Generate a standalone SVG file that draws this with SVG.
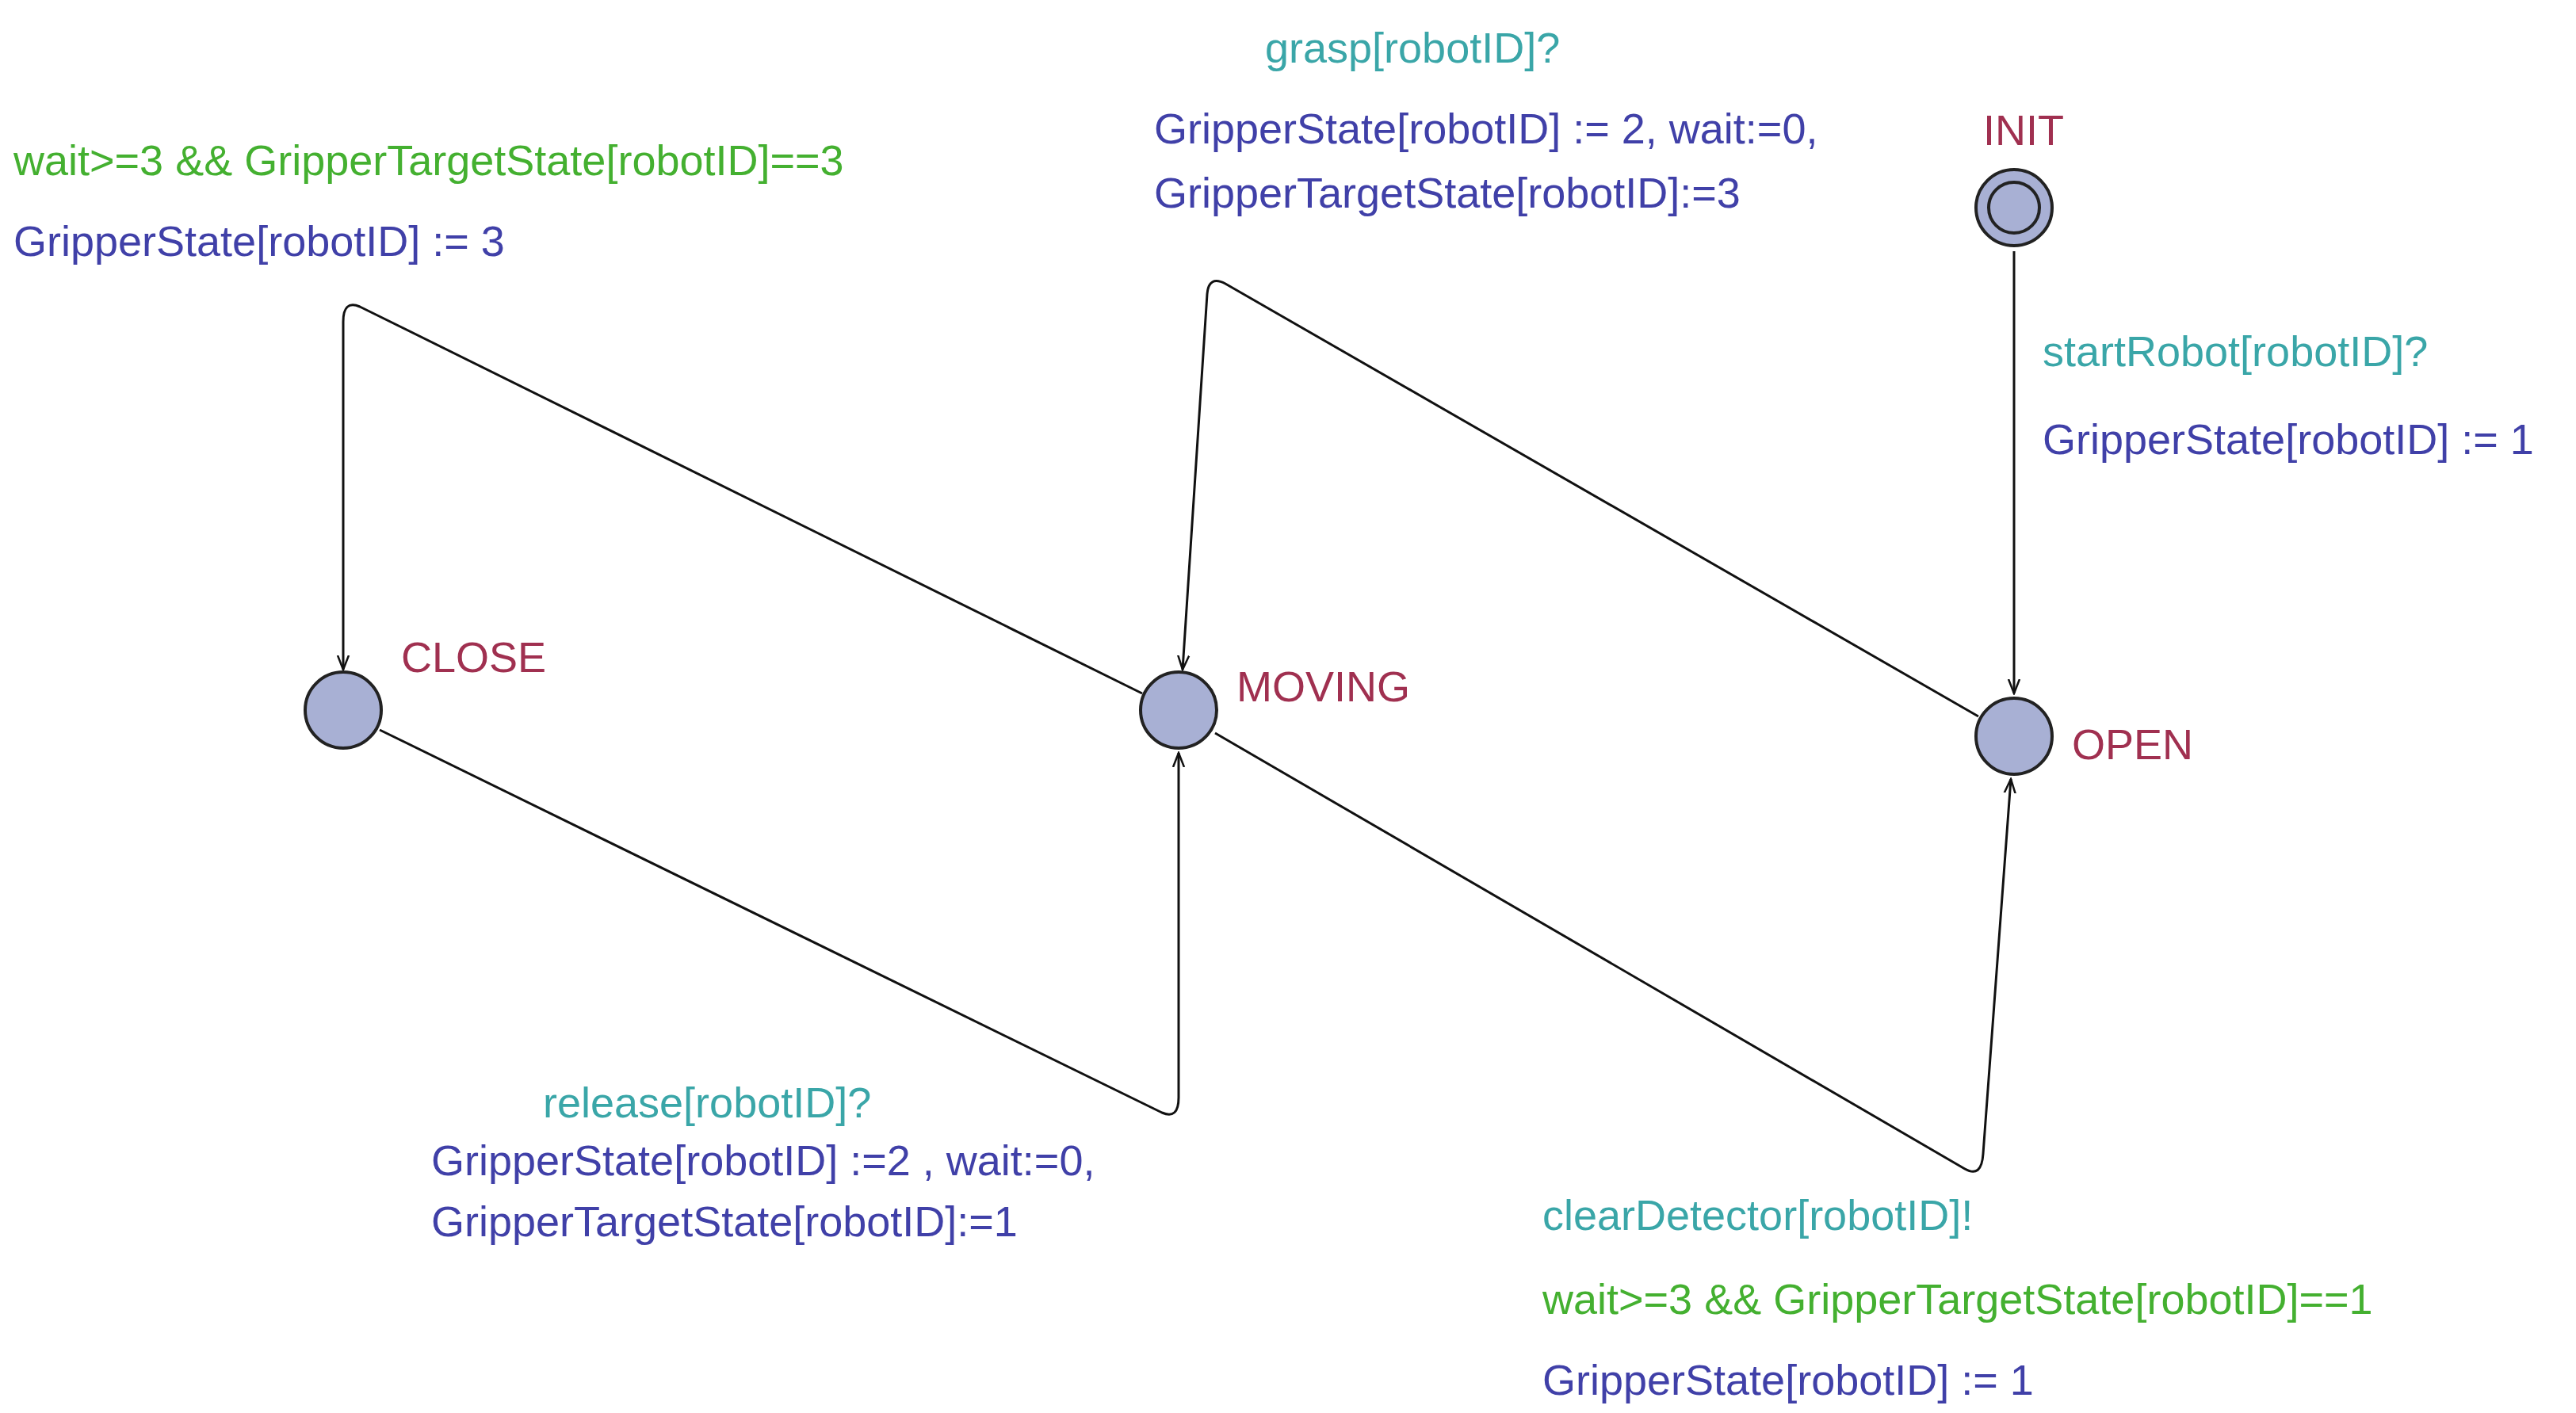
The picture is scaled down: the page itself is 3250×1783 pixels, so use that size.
<svg xmlns="http://www.w3.org/2000/svg" width="3250" height="1783" viewBox="0 0 3250 1783">
<style>
text{font-family:"Liberation Sans",Arial,sans-serif;font-size:54px}
.g{fill:#44b030}.b{fill:#4040a8}.t{fill:#3aa6a8}.n{fill:#a03050}
.loc{fill:#a8b0d4;stroke:#222;stroke-width:4}
.e{fill:none;stroke:#111;stroke-width:3;marker-end:url(#ah)}
</style>
<defs><marker id="ah" viewBox="0 0 20 20" refX="18" refY="10" markerWidth="20" markerHeight="20" markerUnits="userSpaceOnUse" orient="auto"><path d="M0,3 L18,10 L0,17" fill="none" stroke="#111" stroke-width="2.5"/></marker></defs>
<rect width="3250" height="1783" fill="#fff"/>
<g id="edges">
<path class="e" d="M1441,875 L454,387 Q433,378 433,406 L433,845"/>
<path class="e" d="M2496,904 L1546,358 Q1525,347 1523,371 L1492,845"/>
<path class="e" d="M479,921 L1466,1404 Q1487,1413 1487,1385 L1487,950"/>
<path class="e" d="M1533,925 L2479,1475 Q2500,1487 2502,1456 L2537,983"/>
<path class="e" d="M2541,317 L2541,875"/>
</g>
<g id="INIT"><circle class="loc" cx="2541" cy="262" r="48"/><circle cx="2541" cy="262" r="32" fill="none" stroke="#222" stroke-width="4"/><text class="n" x="2502" y="183">INIT</text></g>
<g id="CLOSE"><circle class="loc" cx="433" cy="896" r="48"/><text class="n" x="506" y="848">CLOSE</text></g>
<g id="MOVING"><circle class="loc" cx="1487" cy="896" r="48"/><text class="n" x="1560" y="885">MOVING</text></g>
<g id="OPEN"><circle class="loc" cx="2541" cy="929" r="48"/><text class="n" x="2614" y="958">OPEN</text></g>
<g id="labels">
<text class="g" x="17" y="221">wait&gt;=3 &amp;&amp; GripperTargetState[robotID]==3</text>
<text class="b" x="17" y="323">GripperState[robotID] := 3</text>
<text class="t" x="1596" y="79">grasp[robotID]?</text>
<text class="b" x="1456" y="181">GripperState[robotID] := 2, wait:=0,</text>
<text class="b" x="1456" y="262">GripperTargetState[robotID]:=3</text>
<text class="t" x="2577" y="462">startRobot[robotID]?</text>
<text class="b" x="2577" y="573">GripperState[robotID] := 1</text>
<text class="t" x="685" y="1410">release[robotID]?</text>
<text class="b" x="544" y="1483">GripperState[robotID] :=2 , wait:=0,</text>
<text class="b" x="544" y="1560">GripperTargetState[robotID]:=1</text>
<text class="t" x="1946" y="1552">clearDetector[robotID]!</text>
<text class="g" x="1946" y="1658">wait&gt;=3 &amp;&amp; GripperTargetState[robotID]==1</text>
<text class="b" x="1946" y="1760">GripperState[robotID] := 1</text>
</g>
</svg>
